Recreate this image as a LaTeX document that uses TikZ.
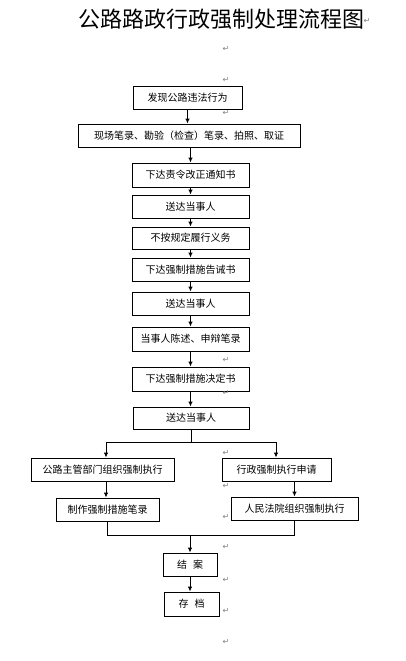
\documentclass[tikz,border=0pt]{standalone}
\usepackage{fontspec}
\newfontfamily\cjk{Noto Sans CJK SC}
\newfontfamily\symf{DejaVu Sans}
\usetikzlibrary{arrows.meta}
\tikzset{
  box/.style={draw, line width=0.9pt, inner sep=0pt, font=\cjk\fontsize{10}{12}\selectfont},
  arr/.style={-{Latex[length=5pt,width=4.5pt]}, line width=0.9pt},
  pm/.style={text=gray, inner sep=0pt, font=\symf\fontsize{8}{8}\selectfont}
}
\begin{document}
\begin{tikzpicture}[x=1pt,y=-1pt]
\useasboundingbox[fill=white] (0,0) rectangle (406,661);
\node[font=\cjk\fontsize{22}{24}\selectfont, inner sep=0pt] (title) at (221.5,19) {公路路政行政强制处理流程图};
\node[box, minimum width=109pt, minimum height=23pt] (b1) at (187.5,97.5) {发现公路违法行为};
\node[box, minimum width=222pt, minimum height=23pt] (b2) at (189,135.5) {现场笔录、勘验（检查）笔录、拍照、取证};
\node[box, minimum width=117pt, minimum height=24pt] (b3) at (190.5,175) {下达责令改正通知书};
\node[box, minimum width=117pt, minimum height=23pt] (b4) at (190.5,206.5) {送达当事人};
\node[box, minimum width=117pt, minimum height=22pt] (b5) at (190.5,238) {不按规定履行义务};
\node[box, minimum width=117pt, minimum height=23pt] (b6) at (190.5,269.5) {下达强制措施告诫书};
\node[box, minimum width=117pt, minimum height=23pt] (b7) at (190.5,303.5) {送达当事人};
\node[box, minimum width=117pt, minimum height=24pt] (b8) at (190.5,339) {当事人陈述、申辩笔录};
\node[box, minimum width=117pt, minimum height=24pt] (b9) at (190.5,379) {下达强制措施决定书};
\node[box, minimum width=116pt, minimum height=22pt] (b10) at (191,418) {送达当事人};
\node[box, minimum width=143pt, minimum height=23pt] (l1) at (102.5,469.5) {公路主管部门组织强制执行};
\node[box, minimum width=109pt, minimum height=23pt] (r1) at (276.5,469.5) {行政强制执行申请};
\node[box, minimum width=103pt, minimum height=23pt] (l2) at (107.5,509.5) {制作强制措施笔录};
\node[box, minimum width=127pt, minimum height=23pt] (r2) at (294.5,508.5) {人民法院组织强制执行};
\node[box, minimum width=54pt, minimum height=23pt] (e1) at (190,564.5) {结\hspace{0.6em}案};
\node[box, minimum width=55pt, minimum height=24pt] (e2) at (191.5,604) {存\hspace{0.6em}档};
% connectors
\draw[arr] (b1.south) -- (b1.south |- b2.north);
\draw[arr] (b2.south -| b3.north) -- (b3.north);
\foreach \a/\b in {b3/b4,b4/b5,b5/b6,b6/b7,b7/b8,b8/b9,b9/b10}{
  \draw[arr] (\a.south) -- (\a.south |- \b.north);
}
\coordinate (bl) at (106,442);
\coordinate (brr) at (276,442);
\draw[line width=0.9pt] (b10.south) -- (b10.south |- bl);
\draw[line width=0.9pt] (bl) -- (brr);
\draw[arr] (bl) -- (bl |- l1.north);
\draw[arr] (brr) -- (brr |- r1.north);
\draw[arr] (bl |- l1.south) -- (bl |- l2.north);
\draw[arr] (r2.north |- r1.south) -- (r2.north);
\coordinate (mj) at (190,535);
\draw[line width=0.9pt] (l2.south) -- (l2.south |- mj) -- (r2.south |- mj) -- (r2.south);
\draw[arr] (mj) -- (mj |- e1.north);
\draw[arr] (e1.south) -- (e1.south |- e2.north);
% paragraph marks
\node[pm] (p0) at (367,21) {↵};
\foreach \n/\y in {p1/49,p2/80,p3/113,p4/360,p5/393,p6/453,p7/486,p8/517,p9/547,p10/580,p11/611,p12/642}{
  \node[pm] (\n) at (226,\y) {↵};
}
\end{tikzpicture}
\end{document}
